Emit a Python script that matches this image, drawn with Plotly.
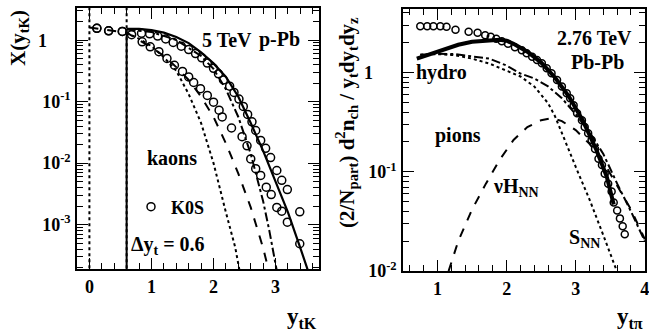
import plotly.graph_objects as go

W, H = 649, 333
def px(x): return x / W
def py(y): return 1 - y / H

FONT = "Liberation Serif"

# ---------------- Left panel: kaons, 5 TeV p-Pb ----------------
k_up_x = [0.12, 0.31, 0.53, 0.84, 0.97, 1.10, 1.23, 1.35, 1.48, 1.60, 1.71, 1.81, 1.90, 2.00, 2.08,
          2.16, 2.26, 2.33, 2.41, 2.48, 2.55, 2.62, 2.68, 2.76, 2.84, 2.92, 3.02, 3.10, 3.19, 3.39, 3.39]
k_up_y = [1.549, 1.413, 1.380, 1.288, 1.259, 1.161, 1.038, 0.912, 0.794, 0.700, 0.603, 0.513, 0.422,
          0.347, 0.282, 0.224, 0.178, 0.141, 0.110, 0.0832, 0.0617, 0.0468, 0.0339, 0.0234, 0.0174,
          0.0123, 0.00759, 0.00525, 0.00372, 0.00162, 0.00049]

k_lo_x = [0.12, 0.31, 0.53, 0.68, 0.85, 0.98, 1.12, 1.25, 1.37, 1.50, 1.60, 1.68, 1.79, 1.90, 2.00,
          2.09, 2.14, 2.29, 2.46, 2.54, 2.60, 2.68, 2.76, 2.85, 2.93, 3.02, 3.10, 3.19]
k_lo_y = [1.549, 1.413, 1.380, 1.219, 0.933, 0.776, 0.646, 0.501, 0.389, 0.309, 0.251, 0.204, 0.162,
          0.126, 0.0977, 0.0724, 0.0562, 0.0372, 0.0269, 0.0191, 0.0117, 0.00813, 0.00631, 0.00407,
          0.00309, 0.00191, 0.00166, 0.00110]

k_solid_x = [0.6, 0.8, 1.0, 1.2, 1.4, 1.6, 1.8, 2.0, 2.2, 2.4, 2.6, 2.8, 3.0, 3.2, 3.4, 3.52]
k_solid_y = [1.514, 1.514, 1.445, 1.318, 1.122, 0.891, 0.631, 0.417, 0.251, 0.120, 0.0447, 0.0158,
             0.00501, 0.00158, 0.000417, 0.000182]

k_dashdot_x = [0.6, 1.0, 1.4, 1.8, 2.0, 2.2, 2.4, 2.6, 2.8, 2.9, 3.02]
k_dashdot_y = [1.479, 1.349, 1.0, 0.550, 0.339, 0.158, 0.0562, 0.0141, 0.0024, 0.000794, 0.000178]

k_dashed_x = [0.0, 0.3, 0.6, 0.8, 1.0, 1.2, 1.4, 1.6, 1.8, 2.0, 2.2, 2.4, 2.6, 2.8, 2.89]
k_dashed_y = [1.60, 1.45, 1.318, 1.0, 0.759, 0.550, 0.363, 0.224, 0.120, 0.0562, 0.0209, 0.00676,
              0.00191, 0.000417, 0.000178]

k_dotted_x = [0.6, 0.8, 1.0, 1.2, 1.4, 1.6, 1.8, 2.0, 2.2, 2.35, 2.42]
k_dotted_y = [1.318, 1.047, 0.794, 0.525, 0.316, 0.132, 0.0447, 0.01, 0.00158, 0.000427, 0.000178]

k_cuts = [0.0, 0.6]

# ---------------- Right panel: pions, 2.76 TeV Pb-Pb ----------------
p_x = [0.75, 0.85, 0.94, 1.04, 1.13, 1.26, 1.45, 1.58, 1.69, 1.77, 1.85, 1.93, 2.02, 2.12, 2.22, 2.29,
       2.37, 2.44, 2.51, 2.58, 2.65, 2.73, 2.80, 2.87, 2.92, 2.97, 3.02, 3.09, 3.13, 3.18, 3.23, 3.28,
       3.33, 3.38, 3.42, 3.47, 3.52, 3.55, 3.60, 3.64, 3.68, 3.71]
p_y = [2.931, 2.931, 2.931, 2.931, 2.884, 2.692, 2.570, 2.512, 2.377, 2.291, 2.188, 2.065, 1.950, 1.799,
       1.679, 1.563, 1.445, 1.337, 1.239, 1.102, 0.982, 0.839, 0.724, 0.617, 0.550, 0.468, 0.389, 0.331,
       0.282, 0.245, 0.209, 0.170, 0.135, 0.117, 0.0955, 0.0759, 0.0631, 0.0490, 0.0407, 0.0339,
       0.0282, 0.0234]

p_solid_x = [0.7, 0.9, 1.1, 1.3, 1.5, 1.7, 1.9, 2.0, 2.1, 2.3, 2.5, 2.7, 2.9, 3.1, 3.3, 3.45, 3.55]
p_solid_y = [1.380, 1.549, 1.718, 1.905, 2.042, 2.113, 2.138, 2.089, 1.950, 1.622, 1.259, 0.891, 0.575,
             0.331, 0.166, 0.0891, 0.0468]

p_dotted_x = [0.75, 1.0, 1.25, 1.5, 1.75, 2.0, 2.2, 2.4, 2.6, 2.7, 2.8, 2.9, 3.0, 3.2, 3.4, 3.59]
p_dotted_y = [1.514, 1.531, 1.496, 1.380, 1.230, 1.047, 0.912, 0.724, 0.490, 0.363, 0.240, 0.166,
              0.112, 0.0525, 0.0229, 0.0102]

p_dashdot_x = [0.75, 1.0, 1.25, 1.5, 1.75, 2.0, 2.2, 2.4, 2.6, 2.8, 3.0, 3.2, 3.4, 3.6, 3.8, 4.0]
p_dashdot_y = [1.514, 1.549, 1.531, 1.462, 1.380, 1.175, 0.977, 0.871, 0.724, 0.550, 0.380, 0.251,
               0.151, 0.0759, 0.0398, 0.0200]

p_dashed_x = [1.16, 1.3, 1.5, 1.7, 1.9, 2.1, 2.3, 2.5, 2.65, 2.8, 3.0, 3.2, 3.4, 3.6, 3.8, 4.0]
p_dashed_y = [0.01, 0.0200, 0.0417, 0.0759, 0.132, 0.209, 0.282, 0.331, 0.347, 0.324, 0.263, 0.191,
              0.126, 0.0724, 0.0417, 0.0209]

fig = go.Figure()

def line(x, y, dash, width, xa="x", ya="y"):
    fig.add_trace(go.Scatter(x=x, y=y, mode="lines", xaxis=xa, yaxis=ya, showlegend=False,
                             line=dict(color="black", dash=dash, width=width)))

def circles(x, y, xa="x", ya="y", name=None, size=8):
    fig.add_trace(go.Scatter(x=x, y=y, mode="markers", xaxis=xa, yaxis=ya,
                             name=name or "", showlegend=name is not None,
                             marker=dict(symbol="circle-open", size=size, color="black",
                                         line=dict(width=1.5, color="black"))))

# left panel
for c in k_cuts:
    line([c, c], [1e-4, 10], "dot", 2)
line([k_cuts[1], k_cuts[1]], [1e-4, k_solid_y[0]], "solid", 2)
line(k_dotted_x, k_dotted_y, "dot", 2)
line(k_dashed_x, k_dashed_y, "dash", 2)
line(k_dashdot_x, k_dashdot_y, "dashdot", 2)
line(k_solid_x, k_solid_y, "solid", 2.2)
circles(k_lo_x, k_lo_y)
circles(k_up_x, k_up_y, name="K0S")

# right panel
line(p_dotted_x, p_dotted_y, "dot", 2, "x2", "y2")
line(p_dashdot_x, p_dashdot_y, "dashdot", 2, "x2", "y2")
line(p_dashed_x, p_dashed_y, "dash", 2, "x2", "y2")
line(p_solid_x, p_solid_y, "solid", 4, "x2", "y2")
circles(p_x, p_y, "x2", "y2", size=7)

tickfont = dict(family=FONT, size=18, color="black", weight="bold")

def xax(domain, rng, anchor):
    return dict(domain=domain, range=rng, anchor=anchor, tickmode="linear", tick0=0, dtick=1,
                ticks="inside", ticklen=11, tickwidth=1.2, tickcolor="black", ticklabelstandoff=1,
                ticklabeloverflow="allow", automargin=False,
                minor=dict(ticks="inside", dtick=0.2, tick0=0, ticklen=6, tickwidth=1.2, tickcolor="black"),
                showline=True, linecolor="black", linewidth=1.5, mirror="allticks",
                showgrid=False, zeroline=False, tickfont=tickfont)

def log_minor(lo, hi):
    vals = []
    for e in range(lo, hi + 1):
        for m in range(2, 10):
            vals.append(m * 10.0 ** e)
    return vals

def yax(domain, rng, anchor, tv, tt):
    return dict(domain=domain, range=rng, anchor=anchor, type="log", tickmode="array",
                tickvals=tv, ticktext=tt, automargin=False,
                ticks="inside", ticklen=11, tickwidth=1.2, tickcolor="black", ticklabelstandoff=1,
                minor=dict(ticks="inside", tickmode="array", tickvals=log_minor(-4, 0),
                           ticklen=6, tickwidth=1.2, tickcolor="black"),
                showline=True, linecolor="black", linewidth=1.5, mirror="allticks",
                showgrid=False, zeroline=False, tickfont=tickfont)

fig.update_layout(
    width=W, height=H, margin=dict(l=0, r=0, t=0, b=0, autoexpand=False),
    paper_bgcolor="white", plot_bgcolor="white",
    font=dict(family=FONT, color="black"),
    xaxis=xax([px(77), px(319)], [-0.2, 3.7], "y"),
    yaxis=yax([py(269), py(8)], [-3.72, 0.52], "x",
              [0.001, 0.01, 0.1, 1], ["10<sup>-3</sup>", "10<sup>-2</sup>", "10<sup>-1</sup>", ""]),
    xaxis2=xax([px(403), px(645)], [0.5, 4.003], "y2"),
    yaxis2=yax([py(271), py(9)], [-2.0, 0.64], "x2",
               [0.01, 0.1, 1], ["10<sup>-2</sup>", "10<sup>-1</sup>", ""]),
    legend=dict(x=px(131), y=py(207), xanchor="left", yanchor="middle", bgcolor="rgba(0,0,0,0)",
                font=dict(family=FONT, size=18, color="black", weight="bold"),
                itemclick=False),
)

def ann(text, x, y, size=20, xanchor="center", yanchor="middle", angle=0):
    fig.add_annotation(text=text, x=px(x), y=py(y), xref="paper", yref="paper", showarrow=False,
                       xanchor=xanchor, yanchor=yanchor, textangle=angle,
                       font=dict(family=FONT, size=size, color="black", weight="bold"))

# "1" labels of the log axes (drawn left-aligned like the original)
ann("1", 42, 41, size=18)
ann("1", 368, 73, size=18)

# left texts
ann("5 TeV", 200, 40, xanchor="left")
ann("p-Pb", 302, 40, xanchor="right")
ann("kaons", 172, 158)
ann("Δy<sub>t</sub> = 0.6", 168, 245)
ann("X(y<sub>tK</sub>)", 19, 38, size=21, angle=-90)
ann("y<sub>tK</sub>", 319, 318, size=23, xanchor="right")

# right texts
ann("2.76 TeV", 634, 38, xanchor="right")
ann("Pb-Pb", 597, 62)
ann("hydro", 441, 72)
ann("pions", 458, 135)
ann("νH<sub>NN</sub>", 516, 187)
ann("S<sub>NN</sub>", 584, 238)
ann("(2/N<sub>part</sub>) d<sup>2</sup>n<sub>ch</sub> / y<sub>t</sub>dy<sub>t</sub>dy<sub>z</sub>",
    346, 123, size=21, angle=-90)
ann("y<sub>tπ</sub>", 645, 318, size=23, xanchor="right")

fig.write_html("out.html")
